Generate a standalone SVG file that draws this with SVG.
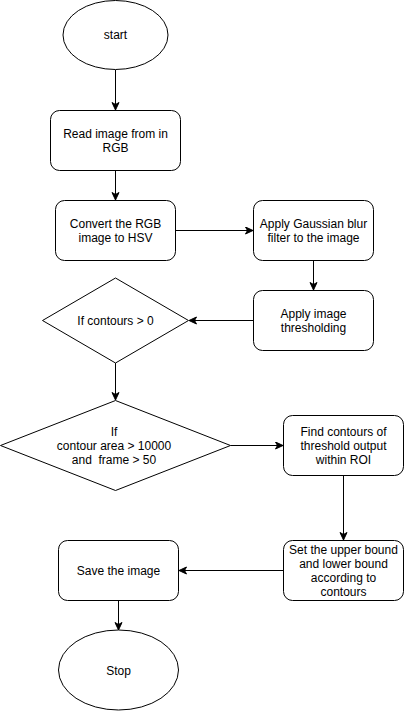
<svg xmlns="http://www.w3.org/2000/svg" width="404" height="711" viewBox="0 0 404 711">
<style>
.s{fill:#fff;stroke:#000;stroke-width:1}
.t{font-family:"Liberation Sans",Arial,sans-serif;font-size:12px;fill:#000;text-anchor:middle;white-space:pre}
.c{fill:none;stroke:#000;stroke-width:1;marker-end:url(#a)}
</style>
<defs>
<marker id="a" markerUnits="userSpaceOnUse" markerWidth="10" markerHeight="10" viewBox="0 0 10 10" refX="8" refY="4" orient="auto">
<path d="M0.5,0.5 L8,4 L0.5,7.5 L2.5,4 Z" fill="#000" stroke="#000" stroke-width="1"/>
</marker>
</defs>
<rect width="404" height="711" fill="#fff"/>
<g id="connectors">
<path class="c" d="M115.5,70 L115.5,110"/>
<path class="c" d="M115.5,170.5 L115.5,200"/>
<path class="c" d="M175.5,230.5 L253,230.5"/>
<path class="c" d="M313.5,260.5 L313.5,290"/>
<path class="c" d="M253.5,320.5 L189,320.5"/>
<path class="c" d="M115.5,363 L115.5,400"/>
<path class="c" d="M230.5,445.5 L283,445.5"/>
<path class="c" d="M343.5,475.5 L343.5,540"/>
<path class="c" d="M283.5,570.5 L179,570.5"/>
<path class="c" d="M118.5,600.5 L118.5,630"/>
</g>
<g id="start">
<ellipse class="s" cx="115.5" cy="35" rx="52.5" ry="34.5"/>
<text class="t" x="115.5" y="39">start</text>
</g>
<g id="read">
<rect class="s" x="50.5" y="110.5" width="130" height="60" rx="9"/>
<text class="t" x="115.5" y="137.5">Read image from in</text>
<text class="t" x="115.5" y="151.5">RGB</text>
</g>
<g id="convert">
<rect class="s" x="55.5" y="200.5" width="120" height="60" rx="9"/>
<text class="t" x="115.5" y="227.5">Convert the RGB</text>
<text class="t" x="115.5" y="241.5">image to HSV</text>
</g>
<g id="gaussian">
<rect class="s" x="253.5" y="200.5" width="120" height="60" rx="9"/>
<text class="t" x="313.5" y="227.5">Apply Gaussian blur</text>
<text class="t" x="313.5" y="241.5">filter to the image</text>
</g>
<g id="threshold">
<rect class="s" x="253.5" y="290.5" width="120" height="60" rx="9"/>
<text class="t" x="313.5" y="317.5">Apply image</text>
<text class="t" x="313.5" y="331.5">thresholding</text>
</g>
<g id="ifcontours">
<polygon class="s" points="115.5,278 188.5,320.5 115.5,363 42.5,320.5"/>
<text class="t" x="115.5" y="324.5">If contours &gt; 0</text>
</g>
<g id="ifarea">
<polygon class="s" points="115.5,400.5 230.5,445.5 115.5,490.5 0.5,445.5"/>
<text class="t" x="114" y="435.5">If</text>
<text class="t" x="114" y="449.5">contour area &gt; 10000</text>
<text class="t" x="114" y="463.5">and  frame &gt; 50</text>
</g>
<g id="find">
<rect class="s" x="283.5" y="415.5" width="120" height="60" rx="9"/>
<text class="t" x="343.5" y="435.5">Find contours of</text>
<text class="t" x="343.5" y="449.5">threshold output</text>
<text class="t" x="343.5" y="463.5">within ROI</text>
</g>
<g id="setbound">
<rect class="s" x="283.5" y="540.5" width="120" height="60" rx="9"/>
<text class="t" x="343.5" y="553.5">Set the upper bound</text>
<text class="t" x="343.5" y="567.5">and lower bound</text>
<text class="t" x="343.5" y="581.5">according to</text>
<text class="t" x="343.5" y="595.5">contours</text>
</g>
<g id="save">
<rect class="s" x="58.5" y="540.5" width="120" height="60" rx="9"/>
<text class="t" x="118.5" y="574.5">Save the image</text>
</g>
<g id="stop">
<ellipse class="s" cx="118.5" cy="670" rx="60" ry="40"/>
<text class="t" x="118.5" y="674.5">Stop</text>
</g>
</svg>
